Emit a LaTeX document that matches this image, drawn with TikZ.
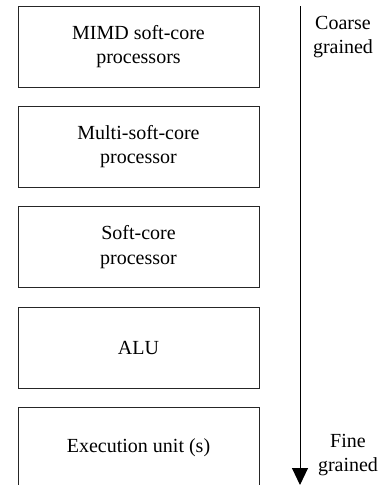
\documentclass[tikz,border=0pt]{standalone}
\usepackage{fontspec}
\setmainfont{Liberation Serif}
\usetikzlibrary{arrows.meta}
\begin{document}
\begin{tikzpicture}[x=1pt,y=-1pt,
  level/.style={draw=black!85, line width=1pt, minimum width=241pt, minimum height=81pt,
    align=center, font=\fontsize{20}{24.5}\selectfont, inner sep=0pt},
  side/.style={align=center, font=\fontsize{20}{24.5}\selectfont, inner sep=0pt}]
\useasboundingbox (0,0) rectangle (389,485);
\node[level] (a) at (138.5,46.5) {MIMD soft-core\\processors};
\node[level] (b) at (138.5,146.5) {Multi-soft-core\\processor};
\node[level] (c) at (138.5,247) {Soft-core\\processor};
\node[level] (d) at (138.5,347.5) {ALU};
\node[level] (e) at (138.5,448) {Execution unit (s)};
\coordinate (top) at (300,6);
\coordinate (bot) at (300,485);
\draw[line width=1pt, -{Triangle[length=17pt,width=16pt]}] (top) -- (bot);
\node[side] (coarse) at (343,37) {Coarse\\grained};
\node[side] (fine) at (348,455) {Fine\\grained};
\end{tikzpicture}
\end{document}
